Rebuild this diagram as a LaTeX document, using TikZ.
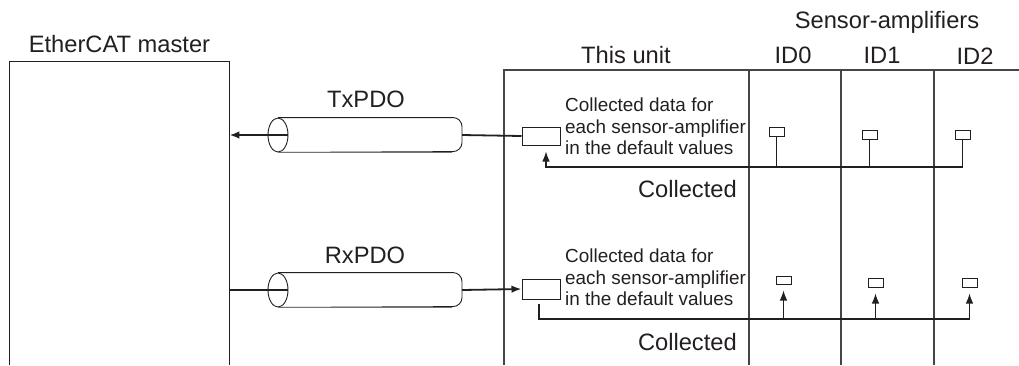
\documentclass[tikz,border=0pt]{standalone}
\usepackage{fontspec}
\setmainfont{Liberation Sans}
\usetikzlibrary{arrows.meta,shapes.geometric,calc,positioning}
\definecolor{ink}{HTML}{231F20}
\definecolor{wallgray}{HTML}{454545}
\tikzset{big/.style={font=\fontsize{23.7}{28}\selectfont,text=ink,inner sep=0pt},
  small/.style={font=\fontsize{18.9}{21.5}\selectfont,text=ink,inner sep=0pt,align=left},
  databox/.style={draw=ink,line width=1pt,minimum width=38pt,minimum height=18pt,inner sep=0pt},
  senbox/.style={draw=ink,line width=1pt,minimum width=15pt,minimum height=9pt,inner sep=0pt},
  pipeend/.style={draw=ink,ellipse,line width=0.9pt,minimum width=20pt,minimum height=34pt,inner sep=0pt},
  pipe/.style={draw=ink,line width=0.9pt,rounded corners=9pt},
  pipebase/.style={draw=black!55,line width=1.6pt},
  wall/.style={draw=wallgray,line width=1.2pt},
  wire/.style={draw=ink,line width=1.8pt},
  bus/.style={draw=ink,line width=1.1pt},
  arr/.style={-{Latex[length=10pt,width=7.5pt]}}}

\begin{document}
\begin{tikzpicture}[x=1pt,y=-1pt]
\useasboundingbox (0,0) rectangle (1019,365);
% EtherCAT master
\node[minimum width=220pt,minimum height=304pt,anchor=north west,inner sep=0pt] (M) at (9,61) {};
\draw[wall,draw=ink,line width=1pt] (M.south west) |- (M.north east) -- (M.south east);
\node[big,anchor=base] (Mlbl) at (119.5,52) {EtherCAT master};
% this unit and the sensor-amplifiers
\draw[wall] (504,365) |- (1019,70);
\foreach \x in {749,841,934} \draw[wall] (\x,70) -- (\x,365);
\node[big,anchor=base] (Unit) at (626,63) {This unit};
\node[big,anchor=base] (Amps) at (887,28) {Sensor-amplifiers};
\node[big,anchor=base] (ID0) at (793,63) {ID0};
\node[big,anchor=base] (ID1) at (882,63) {ID1};
\node[big,anchor=base] (ID2) at (975,64) {ID2};
% TxPDO
\node[pipeend] (TxL) at (278,135) {};
\draw[pipe] (TxL.north) -- ++(184,0) -- ++(0,34) -- (TxL.south);
\draw[pipebase] (TxL.south) -- ++(174,0);
\coordinate (TxR) at (462,135);
\node[big,anchor=base] (TxLbl) at (366,107) {TxPDO};
\node[databox] (TxB) at (541,136) {};
\node[small,anchor=west] (TxTxt) at (565,126.5) {Collected data for\\each sensor-amplifier\\in the default values};
\node[big,anchor=base east] (TxCol) at (737,197) {Collected};
\node[senbox] (S0) at (776.5,131.5) {};
\node[senbox] (S1) at (869.5,134.5) {};
\node[senbox] (S2) at (962.5,134.5) {};
\coordinate (TxBus) at (546,167);
\draw[wire,arr] (TxL.east) -- (M.east |- TxL);
\draw[wire] (TxR) -- (TxB.west);
\draw[bus,arr] (S2.south) |- (TxBus) -- ([yshift=-6pt]TxBus |- TxB.south);
\foreach \s in {S0,S1} \draw[bus] (\s.south) -- (\s.south |- TxBus);
% RxPDO
\node[pipeend] (RxL) at (278,290) {};
\draw[pipe] (RxL.north) -- ++(184,0) -- ++(0,34) -- (RxL.south);
\draw[pipebase] (RxL.south) -- ++(174,0);
\coordinate (RxR) at (462,290);
\node[big,anchor=base] (RxLbl) at (365,263) {RxPDO};
\node[databox,minimum height=20pt] (RxB) at (541,289) {};
\node[small,anchor=west] (RxTxt) at (565,277.5) {Collected data for\\each sensor-amplifier\\in the default values};
\node[big,anchor=base east] (RxCol) at (737,350) {Collected};
\node[senbox,minimum height=8pt] (R0) at (783.5,280) {};
\node[senbox] (R1) at (875.5,282.5) {};
\node[senbox] (R2) at (969.5,282.5) {};
\coordinate (RxBus) at (539,319);
\draw[wire] (M.east |- RxL) -- (RxL.east);
\draw[wire,arr] (RxR) -- (RxB.west);
\draw[bus] ([yshift=-4pt]RxBus |- RxB.south) -- (RxBus) -- (RxBus -| R2.south);
\foreach \s in {R0,R1,R2} \draw[bus,arr] (\s.south |- RxBus) -- ([yshift=-6pt]\s.south);
\end{tikzpicture}
\end{document}
